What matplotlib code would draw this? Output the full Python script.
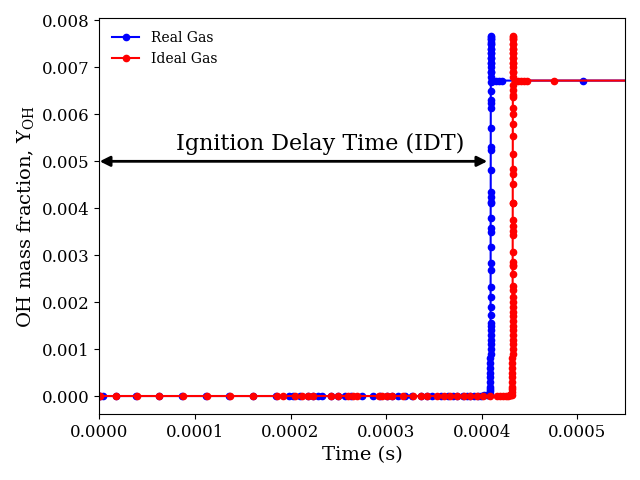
import matplotlib
matplotlib.use("Agg")
import matplotlib.pyplot as plt

plt.rcParams['font.family'] = 'DejaVu Serif'
plt.rcParams['mathtext.fontset'] = 'dejavuserif'

# ---------------- data ----------------
real_time = [
    0.0, 0.000001, 0.000004, 0.000018, 0.000038, 0.000062, 0.000087, 0.000112,
    0.000136, 0.000161, 0.000185, 0.000198, 0.000203, 0.000210, 0.000218, 0.000223,
    0.000229, 0.000233, 0.000242, 0.000250, 0.000257, 0.000263, 0.000275, 0.000286,
    0.000294, 0.000301, 0.000306, 0.000312, 0.000320, 0.000327, 0.000336, 0.000343,
    0.000348, 0.000357, 0.000365, 0.000370, 0.000374, 0.000380, 0.000385, 0.000388,
    0.000392, 0.000396, 0.000399, 0.000402, 0.000405, 0.000407,
    # ignition
    4.0900e-4, 4.0901e-4, 4.0902e-4, 4.0903e-4, 4.0904e-4, 4.0905e-4, 4.0906e-4,
    4.0907e-4, 4.0908e-4, 4.0909e-4, 4.0910e-4, 4.0911e-4, 4.0912e-4, 4.0913e-4,
    4.0914e-4, 4.0915e-4, 4.0916e-4, 4.0917e-4, 4.0918e-4, 4.0919e-4, 4.0920e-4,
    4.0921e-4, 4.0922e-4, 4.0923e-4, 4.0924e-4, 4.0925e-4, 4.0926e-4, 4.0927e-4,
    4.0928e-4, 4.0929e-4, 4.0930e-4, 4.0931e-4, 4.0932e-4, 4.0933e-4, 4.0934e-4,
    4.0935e-4, 4.0936e-4, 4.0937e-4, 4.0938e-4, 4.0939e-4, 4.0940e-4, 4.0941e-4,
    4.0942e-4, 4.0943e-4, 4.0944e-4, 4.0945e-4, 4.0946e-4, 4.0947e-4, 4.0948e-4,
    4.0949e-4, 4.0950e-4, 4.0951e-4, 4.0952e-4, 4.0953e-4, 4.0954e-4, 4.0955e-4,
    4.0956e-4, 4.0957e-4, 4.0958e-4, 4.0959e-4,
    # post-ignition plateau
    0.000412, 0.000415, 0.000418, 0.000421, 0.000506, 0.000600,
]
real_oh = [
    0.0, 0.0, 0.0, 0.0, 0.0, 0.0, 0.0, 0.0,
    0.0, 0.0, 0.0, 0.0, 0.0, 0.0, 0.0, 0.0,
    0.0, 0.0, 0.0, 0.0, 0.0, 0.0, 0.0, 0.0,
    0.0, 0.0, 0.0, 0.0, 0.0, 0.0, 0.0, 0.0,
    0.0, 0.0, 0.0, 0.0, 0.0, 0.0, 0.000001, 0.000002,
    0.000003, 0.000005, 0.000008, 0.000012, 0.000018, 0.000025,
    0.00005, 0.0001, 0.00015, 0.0002, 0.0003, 0.0004, 0.0005,
    0.0006, 0.0007, 0.0008, 0.0009, 0.0010, 0.0011, 0.0012,
    0.0013, 0.0014, 0.0015, 0.00156, 0.00173, 0.0019, 0.00211,
    0.00233, 0.00269, 0.00284, 0.00318, 0.0035, 0.00358, 0.0038,
    0.00412, 0.00414, 0.00425, 0.00435, 0.00482, 0.00525, 0.00531,
    0.00572, 0.00614, 0.00625, 0.00631, 0.00649, 0.0067, 0.0069,
    0.0071, 0.0072, 0.0073, 0.0074, 0.0075, 0.00755, 0.0076,
    0.00764, 0.00766, 0.0076, 0.0075, 0.0074, 0.0073, 0.0072,
    0.0071, 0.0070, 0.0069, 0.0068,
    0.00672, 0.00672, 0.00672, 0.00672, 0.00672, 0.00672,
]

ideal_time = [
    0.0, 0.000001, 0.000018, 0.000039, 0.000063, 0.000088, 0.000113, 0.000137,
    0.000161, 0.000186, 0.000192, 0.000205, 0.000212, 0.000218, 0.000223, 0.000242,
    0.000250, 0.000260, 0.000265, 0.000270, 0.000292, 0.000296, 0.000301, 0.000306,
    0.000318, 0.000328, 0.000336, 0.000343, 0.000353, 0.000360, 0.000367, 0.000374,
    0.000381, 0.000388, 0.000395, 0.000401, 0.000409, 0.000416, 0.000419, 0.000422,
    0.000425, 0.000427, 0.000429, 0.000430, 0.000431,
    # ignition
    4.3200e-4, 4.3201e-4, 4.3202e-4, 4.3203e-4, 4.3204e-4, 4.3205e-4, 4.3206e-4,
    4.3207e-4, 4.3208e-4, 4.3209e-4, 4.3210e-4, 4.3211e-4, 4.3212e-4, 4.3213e-4,
    4.3214e-4, 4.3215e-4, 4.3216e-4, 4.3217e-4, 4.3218e-4, 4.3219e-4, 4.3220e-4,
    4.3221e-4, 4.3222e-4, 4.3223e-4, 4.3224e-4, 4.3225e-4, 4.3226e-4, 4.3227e-4,
    4.3228e-4, 4.3229e-4, 4.3230e-4, 4.3231e-4, 4.3232e-4, 4.3233e-4, 4.3234e-4,
    4.3235e-4, 4.3236e-4, 4.3237e-4, 4.3238e-4, 4.3239e-4, 4.3240e-4, 4.3241e-4,
    4.3242e-4, 4.3243e-4, 4.3244e-4, 4.3245e-4, 4.3246e-4, 4.3247e-4, 4.3248e-4,
    4.3249e-4, 4.3250e-4, 4.3251e-4, 4.3252e-4, 4.3253e-4, 4.3254e-4, 4.3255e-4,
    4.3256e-4, 4.3257e-4, 4.3258e-4, 4.3259e-4, 4.3260e-4, 4.3261e-4, 4.3262e-4,
    4.3263e-4, 4.3264e-4, 4.3265e-4,
    # post-ignition plateau
    0.000435, 0.000438, 0.000441, 0.000444, 0.000447, 0.000475, 0.000600,
]
ideal_oh = [
    0.0, 0.0, 0.0, 0.0, 0.0, 0.0, 0.0, 0.0,
    0.0, 0.0, 0.0, 0.0, 0.0, 0.0, 0.0, 0.0,
    0.0, 0.0, 0.0, 0.0, 0.0, 0.0, 0.0, 0.0,
    0.0, 0.0, 0.0, 0.0, 0.0, 0.0, 0.0, 0.0,
    0.0, 0.0, 0.0, 0.0, 0.0, 0.000001, 0.000002, 0.000004,
    0.000006, 0.000009, 0.000013, 0.000018, 0.000024,
    0.00003, 0.00008, 0.00015, 0.0002, 0.0003, 0.0004, 0.0005,
    0.0006, 0.0007, 0.0008, 0.0009, 0.0010, 0.0011, 0.0012,
    0.0013, 0.0014, 0.0015, 0.0016, 0.0017, 0.0018, 0.0019,
    0.0020, 0.0021, 0.00226, 0.00235, 0.0026, 0.00277, 0.0028,
    0.00286, 0.00306, 0.00342, 0.00352, 0.00363, 0.00374, 0.00411,
    0.00412, 0.00451, 0.00473, 0.00484, 0.00515, 0.00554, 0.0058,
    0.0060, 0.00613, 0.00636, 0.00642, 0.00653, 0.00663, 0.0069,
    0.0071, 0.0072, 0.0073, 0.0074, 0.0075, 0.0076, 0.00764,
    0.00766, 0.0076, 0.0075, 0.0074, 0.0073, 0.0072, 0.0071,
    0.0070, 0.0069, 0.0068,
    0.00672, 0.00672, 0.00672, 0.00672, 0.00672, 0.00672, 0.00672,
]

idt_real = 0.000409
arrow_y = 0.005
label_text = "Ignition Delay Time (IDT)"

# ---------------- plot ----------------
fig = plt.figure(figsize=(6.4, 4.8), dpi=100)
ax = fig.add_axes([0.155, 0.1375, 0.822, 0.824])

ax.plot(real_time, real_oh, 'o-', color='blue', markersize=4.5, label='Real Gas')
ax.plot(ideal_time, ideal_oh, 'o-', color='red', markersize=4.5, label='Ideal Gas')

ax.annotate('', xy=(idt_real * 0.992, arrow_y), xytext=(0.0000005, arrow_y),
            arrowprops=dict(arrowstyle='<|-|>', color='black', lw=2,
                            mutation_scale=15, shrinkA=0, shrinkB=0))
ax.text(0.000231, 0.00537, label_text, fontsize=16, ha='center', va='center')

ax.set_xlim(0, 0.00055)
ax.set_xlabel('Time (s)', fontsize=14)
ax.set_ylabel(r'OH mass fraction, $\mathrm{Y_{OH}}$', fontsize=14)
ax.tick_params(labelsize=12)
ax.xaxis.set_major_formatter(matplotlib.ticker.FormatStrFormatter('%.4f'))
ax.yaxis.set_major_formatter(matplotlib.ticker.FormatStrFormatter('%.3f'))
ax.legend(loc='upper left', frameon=False, fontsize=10)

fig.savefig('out.png', dpi=100)
